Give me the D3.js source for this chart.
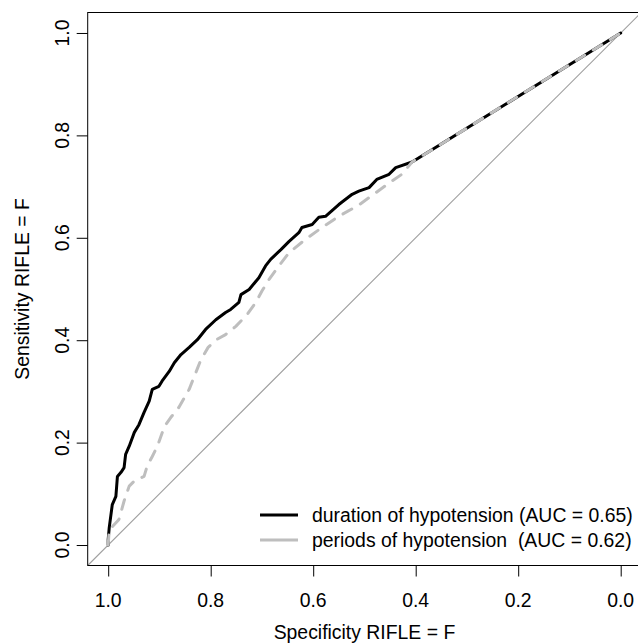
<!DOCTYPE html>
<html>
<head>
<meta charset="utf-8">
<script src="https://cdn.jsdelivr.net/npm/d3@7"></script>
<style>
  body { margin: 0; background: #fff; }
  svg text { font-family: "Liberation Sans", Arial, sans-serif; }
</style>
</head>
<body>
<svg id="roc" width="638" height="643"></svg>
<script>
// ROC curves (specificity, sensitivity)
const specDuration = [1.000, 1.000, 0.998, 0.992, 0.985, 0.982, 0.975, 0.969, 0.966, 0.959, 0.949, 0.940, 0.930, 0.920,
  0.914, 0.901, 0.895, 0.881, 0.871, 0.858, 0.842, 0.826, 0.810, 0.790, 0.771, 0.761, 0.745, 0.741, 0.725, 0.706,
  0.693, 0.683, 0.663, 0.647, 0.628, 0.622, 0.602, 0.589, 0.576, 0.550, 0.524, 0.511, 0.491, 0.476, 0.452, 0.439,
  0.407, 0.000];
const sensDuration = [0.000, 0.011, 0.034, 0.079, 0.095, 0.134, 0.142, 0.151, 0.177, 0.193, 0.220, 0.235, 0.259, 0.281,
  0.304, 0.310, 0.320, 0.339, 0.356, 0.372, 0.386, 0.401, 0.421, 0.440, 0.454, 0.460, 0.474, 0.489, 0.499, 0.522,
  0.545, 0.558, 0.577, 0.593, 0.610, 0.620, 0.626, 0.640, 0.642, 0.665, 0.685, 0.691, 0.698, 0.714, 0.724, 0.737,
  0.748, 1.000];

const specPeriods = [1.000, 0.998, 0.992, 0.979, 0.969, 0.959, 0.949, 0.930, 0.924, 0.914, 0.904, 0.890, 0.878, 0.862,
  0.842, 0.825, 0.819, 0.805, 0.789, 0.771, 0.751, 0.729, 0.712, 0.700, 0.686, 0.667, 0.647, 0.615, 0.583, 0.550,
  0.511, 0.478, 0.446, 0.427, 0.407, 0.000];
const sensPeriods = [0.000, 0.030, 0.036, 0.050, 0.086, 0.115, 0.125, 0.134, 0.154, 0.173, 0.193, 0.232, 0.249, 0.269,
  0.304, 0.347, 0.362, 0.386, 0.401, 0.411, 0.427, 0.450, 0.474, 0.496, 0.519, 0.545, 0.571, 0.597, 0.620, 0.642,
  0.664, 0.688, 0.711, 0.724, 0.748, 1.000];

const ticks = [0, 0.2, 0.4, 0.6, 0.8, 1.0];
const legendLabels = ["duration of hypotension (AUC = 0.65)", "periods of hypotension  (AUC = 0.62)"];

const svg = d3.select("#roc");
const fontSize = "19.4px";

// R pads the limits by 4%, specificity runs backwards
const x = d3.scaleLinear().domain([1.04, -0.04]).range([87.7, 641.2]);
const y = d3.scaleLinear().domain([-0.04, 1.04]).range([565.5, 12.5]);

svg.append("clipPath").attr("id", "plotclip")
  .append("rect")
  .attr("x", x(1.04)).attr("y", y(1.04))
  .attr("width", x(-0.04) - x(1.04)).attr("height", y(-0.04) - y(1.04));

const plot = svg.append("g").attr("clip-path", "url(#plotclip)");

// chance line
plot.append("line")
  .attr("x1", x(1.04)).attr("y1", y(-0.04))
  .attr("x2", x(-0.04)).attr("y2", y(1.04))
  .attr("stroke", "#a0a0a0").attr("stroke-width", 1.1);

const line = d3.line().x(d => x(d[0])).y(d => y(d[1]));

plot.append("path")
  .datum(d3.zip(specDuration, sensDuration))
  .attr("d", line)
  .attr("fill", "none")
  .attr("stroke", "#000")
  .attr("stroke-width", 3)
  .attr("stroke-linejoin", "round")
  .attr("stroke-linecap", "round");

plot.append("path")
  .datum(d3.zip(specPeriods, sensPeriods))
  .attr("d", line)
  .attr("fill", "none")
  .attr("stroke", "#bebebe")
  .attr("stroke-width", 3)
  .attr("stroke-dasharray", "10,10")
  .attr("stroke-linejoin", "round")
  .attr("stroke-linecap", "round");

// box
svg.append("rect")
  .attr("x", x(1.04)).attr("y", y(1.04))
  .attr("width", x(-0.04) - x(1.04)).attr("height", y(-0.04) - y(1.04))
  .attr("fill", "none").attr("stroke", "#000").attr("stroke-width", 1);

// axes
const xAxis = svg.append("g")
  .attr("transform", "translate(0," + y(-0.04) + ")")
  .call(d3.axisBottom(x).tickValues(ticks).tickSize(11));
xAxis.select(".domain").remove();
xAxis.selectAll("text").remove();

const yAxis = svg.append("g")
  .attr("transform", "translate(" + x(1.04) + ",0)")
  .call(d3.axisLeft(y).tickValues(ticks).tickSize(11));
yAxis.select(".domain").remove();
yAxis.selectAll("text").remove();

svg.selectAll(".xlab").data(ticks).enter().append("text")
  .attr("class", "xlab")
  .attr("x", d => x(d)).attr("y", 607)
  .attr("text-anchor", "middle")
  .style("font-size", fontSize)
  .text(d => d.toFixed(1));

svg.selectAll(".ylab").data(ticks).enter().append("text")
  .attr("class", "ylab")
  .attr("transform", d => "translate(69," + y(d) + ") rotate(-90)")
  .attr("text-anchor", "middle")
  .style("font-size", fontSize)
  .text(d => d.toFixed(1));

svg.append("text")
  .attr("x", (x(1.04) + x(-0.04)) / 2).attr("y", 639)
  .attr("text-anchor", "middle")
  .style("font-size", fontSize)
  .text("Specificity RIFLE = F");

svg.append("text")
  .attr("transform", "translate(29," + (y(1.04) + y(-0.04)) / 2 + ") rotate(-90)")
  .attr("text-anchor", "middle")
  .style("font-size", fontSize)
  .text("Sensitivity RIFLE = F");

// legend
const legendColors = ["#000", "#bebebe"];
const legend = svg.selectAll(".leg").data(legendLabels).enter().append("g")
  .attr("transform", (d, i) => "translate(0," + (515 + i * 25) + ")");
legend.append("line")
  .attr("x1", 260).attr("x2", 298)
  .attr("stroke", (d, i) => legendColors[i]).attr("stroke-width", 3);
legend.append("text")
  .attr("x", 312).attr("y", 7)
  .style("font-size", fontSize)
  .style("white-space", "pre")
  .text(d => d);
</script>
</body>
</html>
